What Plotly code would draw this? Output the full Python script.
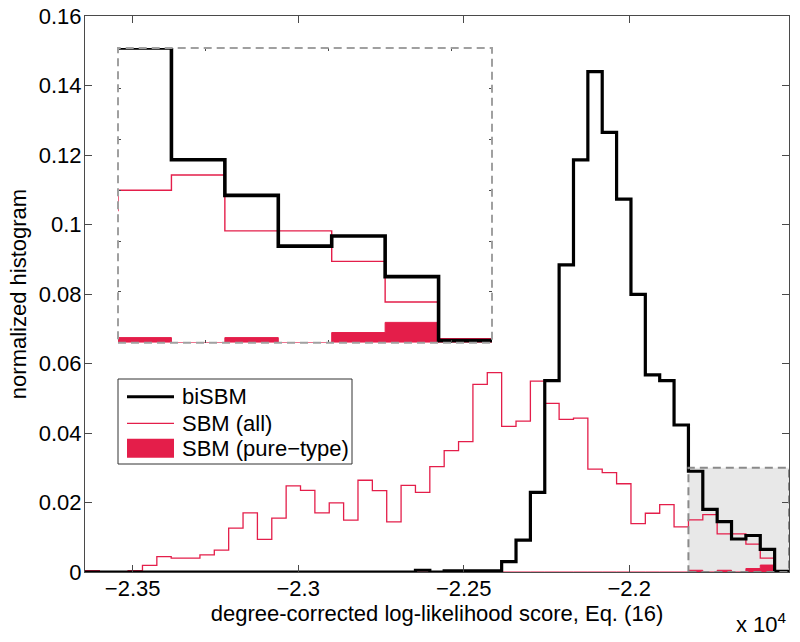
import plotly.graph_objects as go

# ---------------- data ----------------
BIN_START = -23644.0          # left edge of first histogram bin
BIN_WIDTH = 43.4              # histogram bin width
N_BINS = 49

bisbm = [0, 0, 0, 0, 0, 0, 0, 0, 0, 0,
         0, 0, 0, 0, 0, 0, 0, 0, 0, 0,
         0, 0, 0, 0.0005, 0, 0.0003, 0.0003, 0.0003, 0.0003, 0.0030,
         0.0092, 0.0229, 0.0551, 0.0884, 0.1186, 0.1440, 0.1265, 0.1073, 0.0799, 0.0567,
         0.0551, 0.0423, 0.0290, 0.0180, 0.0145, 0.0095, 0.0105, 0.0065, 0.0002]

sbm_all = [0.0004, 0.0001, 0.0001, 0.0004, 0.0019, 0.0044, 0.0040, 0.0040, 0.0049, 0.0063,
           0.0126, 0.0170, 0.0094, 0.0155, 0.0248, 0.0235, 0.0170, 0.0199, 0.0149, 0.0264,
           0.0234, 0.0144, 0.0249, 0.0229, 0.0303, 0.0349, 0.0375, 0.0540, 0.0574, 0.0419,
           0.0434, 0.0549, 0.0485, 0.0439, 0.0443, 0.0296, 0.0286, 0.0254, 0.0139, 0.0169,
           0.0194, 0.0130, 0.0150, 0.0165, 0.0110, 0.0110, 0.0080, 0.0040, 0.0004]

sbm_pure = [0] * 42 + [0.0005, 0, 0.0005, 0, 0.0010, 0.0020, 0]

x_tickvals = [-23500, -23000, -22500, -22000]
x_ticktext = ["−2.35", "−2.3", "−2.25", "−2.2"]
y_tickvals = [0, 0.02, 0.04, 0.06, 0.08, 0.10, 0.12, 0.14, 0.16]
y_ticktext = ["0", "0.02", "0.04", "0.06", "0.08", "0.1", "0.12", "0.14", "0.16"]

series_names = ["biSBM", "SBM (all)", "SBM (pure−type)"]

ZOOM_FIRST_BIN = 42           # first bin of the zoomed region
ZOOM_BOX_YMAX = 0.03          # height of the shaded zoom box
INSET_YMAX = 0.029
inset_xticks = [-21750, -21650, -21550]
inset_yticks = [0.005, 0.01, 0.015, 0.02, 0.025]

# ---------------- styling ----------------
FONT = "Liberation Sans, Arial, Helvetica, sans-serif"
FS = 22
BLACK = "#000000"
RED = "rgb(228,30,74)"
AX = "#4a4a4a"
GRAYLINE = "#8a8a8a"

edges = [BIN_START + i * BIN_WIDTH for i in range(N_BINS + 1)]


def stair_y(vals):
    return list(vals) + [vals[-1]]


fig = go.Figure()

for xa, ya, lw_b, lw_r in (("x", "y", 3.2, 1.3), ("x2", "y2", 3.6, 1.4)):
    fig.add_trace(go.Scatter(x=edges, y=stair_y(sbm_pure), mode="lines", line_shape="hv",
                             fill="tozeroy", fillcolor=RED, line=dict(color=RED, width=1),
                             xaxis=xa, yaxis=ya, showlegend=False, name=series_names[2]))
    fig.add_trace(go.Scatter(x=edges, y=stair_y(sbm_all), mode="lines", line_shape="hv",
                             line=dict(color=RED, width=lw_r),
                             xaxis=xa, yaxis=ya, showlegend=False, name=series_names[1]))
    fig.add_trace(go.Scatter(x=edges, y=stair_y(bisbm), mode="lines", line_shape="hv",
                             line=dict(color=BLACK, width=lw_b),
                             xaxis=xa, yaxis=ya, showlegend=False, name=series_names[0]))

# plot area in pixels
L, R, T, B = 85, 11, 16, 70
W, H = 800, 642
PW, PH = W - L - R, H - T - B


def px2paper_x(px):
    return (px - L) / PW


def px2paper_y(py):
    return (H - B - py) / PH


axis_common = dict(showline=True, mirror="ticks", linecolor=AX, linewidth=1,
                   ticks="inside", ticklen=7, tickcolor=AX, tickwidth=1,
                   showgrid=False, zeroline=False, automargin=False,
                   tickfont=dict(family=FONT, size=FS, color="black"))

inset_common = dict(showline=False, mirror="ticks", ticks="inside", ticklen=3,
                    tickcolor=AX, tickwidth=1, showgrid=False, zeroline=False,
                    showticklabels=False, automargin=False)

fig.update_layout(
    width=W, height=H,
    margin=dict(l=L, r=R, t=T, b=B, autoexpand=False),
    paper_bgcolor="white", plot_bgcolor="white",
    font=dict(family=FONT, size=FS, color="black"),
    showlegend=False,
    xaxis=dict(range=[edges[0], edges[-1]], tickvals=x_tickvals, ticktext=x_ticktext,
               ticklabelstandoff=-3,
               title=dict(text="degree-corrected log-likelihood score, Eq. (16)",
                          font=dict(family=FONT, size=FS), standoff=0),
               **axis_common),
    yaxis=dict(range=[0, 0.16], tickvals=y_tickvals, ticktext=y_ticktext,
               ticklabelstandoff=-2,
               title=dict(text="normalized histogram", font=dict(family=FONT, size=FS), standoff=6),
               **axis_common),
    xaxis2=dict(domain=[px2paper_x(118), px2paper_x(492)], anchor="y2",
                range=[edges[ZOOM_FIRST_BIN], edges[-1]], tickvals=inset_xticks, **inset_common),
    yaxis2=dict(domain=[px2paper_y(342.7), px2paper_y(48)], anchor="x2",
                range=[0, INSET_YMAX], tickvals=inset_yticks, **inset_common),
)

shapes = []
# shaded zoom region in main axes
shapes.append(dict(type="rect", xref="x", yref="y", x0=edges[ZOOM_FIRST_BIN], x1=edges[-1],
                   y0=0, y1=ZOOM_BOX_YMAX, fillcolor="#e8e8e8", line=dict(width=0), layer="below"))
shapes.append(dict(type="rect", xref="x", yref="y", x0=edges[ZOOM_FIRST_BIN], x1=edges[-1],
                   y0=0, y1=ZOOM_BOX_YMAX, fillcolor="rgba(0,0,0,0)",
                   line=dict(color=GRAYLINE, width=2, dash="8px,5px"), layer="above"))
# inset dashed frame
shapes.append(dict(type="rect", xref="x2 domain", yref="y2 domain", x0=0, x1=1, y0=0, y1=1,
                   fillcolor="rgba(0,0,0,0)", line=dict(color="#a0a0a0", width=2, dash="8px,5px"),
                   layer="above"))

# legend (drawn manually, MATLAB style)
lx0, lx1, ly0, ly1 = 118, 352, 379, 464
shapes.append(dict(type="rect", xref="paper", yref="paper",
                   x0=px2paper_x(lx0), x1=px2paper_x(lx1), y0=px2paper_y(ly1), y1=px2paper_y(ly0),
                   fillcolor="white", line=dict(color="#333333", width=1), layer="above"))
rows = [396.7, 423.3, 448.3]
shapes.append(dict(type="line", xref="paper", yref="paper", x0=px2paper_x(127), x1=px2paper_x(174),
                   y0=px2paper_y(rows[0]), y1=px2paper_y(rows[0]), line=dict(color=BLACK, width=3)))
shapes.append(dict(type="line", xref="paper", yref="paper", x0=px2paper_x(127), x1=px2paper_x(174),
                   y0=px2paper_y(rows[1]), y1=px2paper_y(rows[1]), line=dict(color=RED, width=1.3)))
shapes.append(dict(type="rect", xref="paper", yref="paper", x0=px2paper_x(127), x1=px2paper_x(174),
                   y0=px2paper_y(rows[2] + 9.5), y1=px2paper_y(rows[2] - 9.5),
                   fillcolor=RED, line=dict(width=0)))
fig.update_layout(shapes=shapes)

annotations = []
for name, ry in zip(series_names, rows):
    annotations.append(dict(text=name, xref="paper", yref="paper", x=px2paper_x(180), y=px2paper_y(ry),
                            xanchor="left", yanchor="middle", showarrow=False,
                            font=dict(family=FONT, size=FS, color="black")))
annotations.append(dict(text="x 10<sup>4</sup>", xref="paper", yref="paper", x=1.0, y=px2paper_y(623),
                        xanchor="right", yanchor="middle", showarrow=False,
                        font=dict(family=FONT, size=FS, color="black")))
fig.update_layout(annotations=annotations)

fig.write_html("out.html", config={"displayModeBar": False},
               post_script="document.body.style.margin='0';document.body.style.overflow='hidden';")
